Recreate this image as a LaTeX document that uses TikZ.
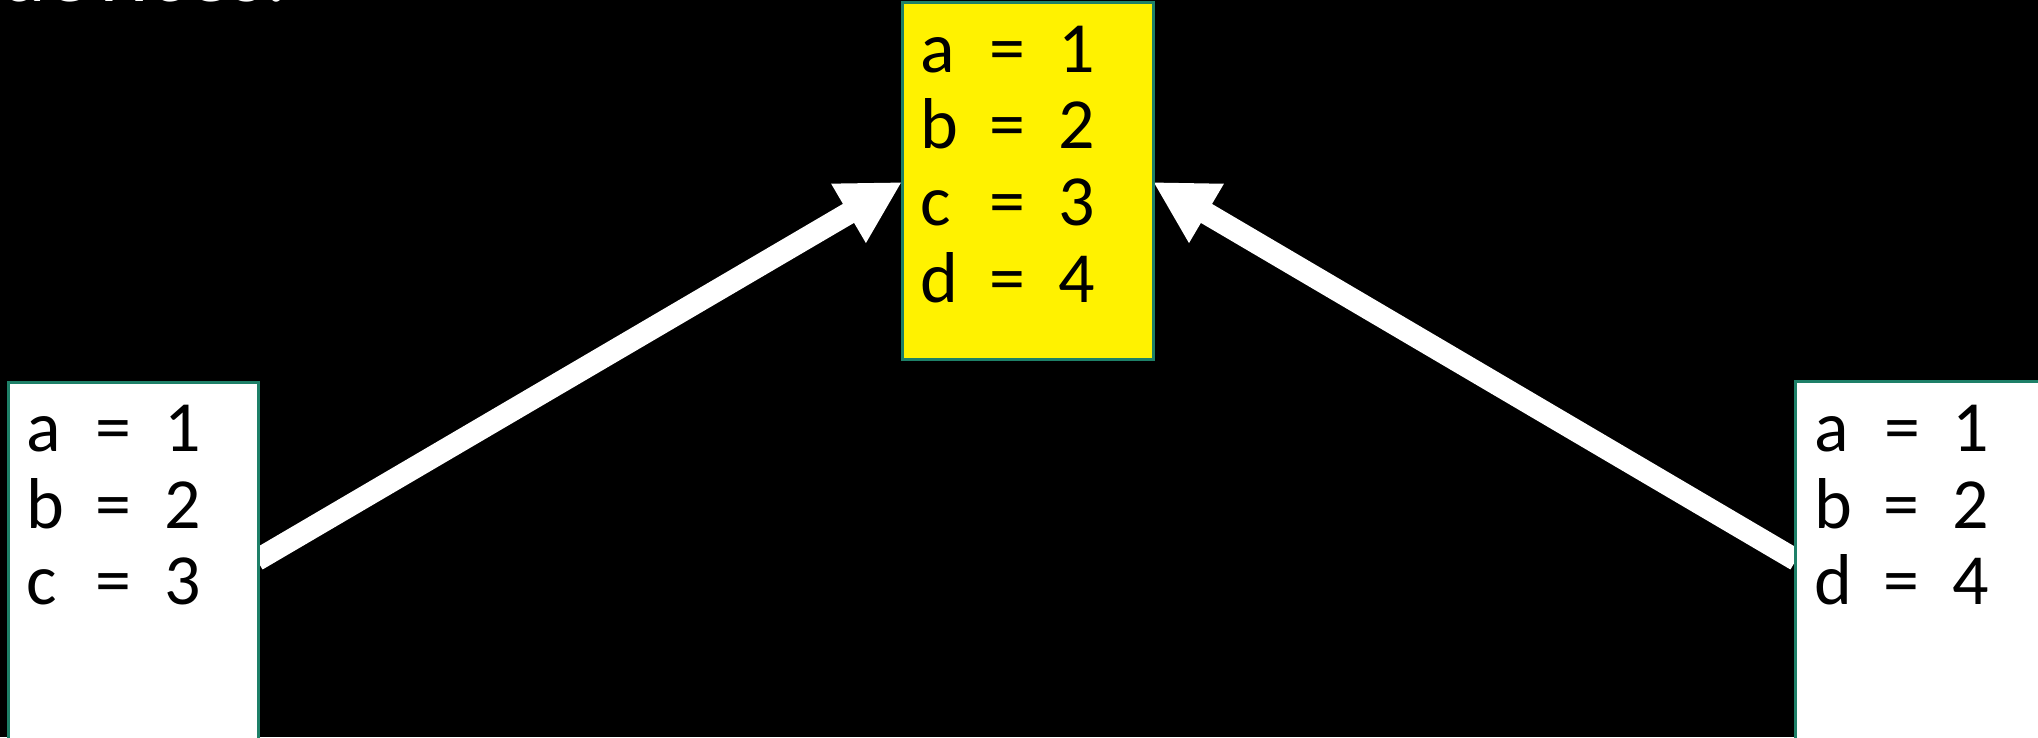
\documentclass[tikz,border=0pt]{standalone}
\usepackage{fontspec}
\setmainfont{Carlito}
\usetikzlibrary{arrows.meta}
\definecolor{boxedge}{RGB}{30,128,104}
\newcommand{\kvline}[2]{\makebox[70pt][l]{#1}\makebox[69pt][l]{=}#2}
\begin{document}
\begin{tikzpicture}[x=1pt,y=-1pt,
  vbox/.style={draw=boxedge,line width=3pt,inner sep=0pt,outer sep=0pt,anchor=north west},
  vline/.style={anchor=base west,inner sep=0pt,outer sep=0pt,font=\fontsize{72}{77}\selectfont,text=black},
  bigarrow/.style={draw=white,line width=22pt,-{Triangle[length=62pt,width=64pt]}}]
\fill[black] (0,0) rectangle (2038,737);
\useasboundingbox (0,0) rectangle (2038,737);
\clip (0,0) rectangle (2038,737);
% title fragment
\node[anchor=base west,inner sep=0pt,text=white,font=\fontsize{88}{100}\selectfont] (top) at (0,1) {devices.};
% arrows (drawn below boxes)
\coordinate (ltail) at (257,560);
\coordinate (lhead) at (902,182);
\coordinate (rtail) at (1796,560);
\coordinate (rhead) at (1153,182);
\draw[bigarrow] (ltail) -- (lhead);
\draw[bigarrow] (rtail) -- (rhead);
% boxes
\node[vbox,fill=yellow,minimum width=251pt,minimum height=357pt] (ybox) at (902,2) {};
\node[vbox,fill=white,minimum width=250pt,minimum height=420pt] (lbox) at (8,382) {};
\node[vbox,fill=white,minimum width=250pt,minimum height=420pt] (rbox) at (1795,381) {};
% yellow box text
\node[vline] (y1) at (920,72) {\kvline{a}{1}};
\node[vline] (y2) at (920,148) {\kvline{b}{2}};
\node[vline] (y3) at (920,225) {\kvline{c}{3}};
\node[vline] (y4) at (920,302) {\kvline{d}{4}};
% left box text
\node[vline] (l1) at (26,451) {\kvline{a}{1}};
\node[vline] (l2) at (26,528) {\kvline{b}{2}};
\node[vline] (l3) at (26,604) {\kvline{c}{3}};
% right box text
\node[vline] (r1) at (1814,451) {\kvline{a}{1}};
\node[vline] (r2) at (1814,528) {\kvline{b}{2}};
\node[vline] (r3) at (1814,604) {\kvline{d}{4}};
\end{tikzpicture}
\end{document}
